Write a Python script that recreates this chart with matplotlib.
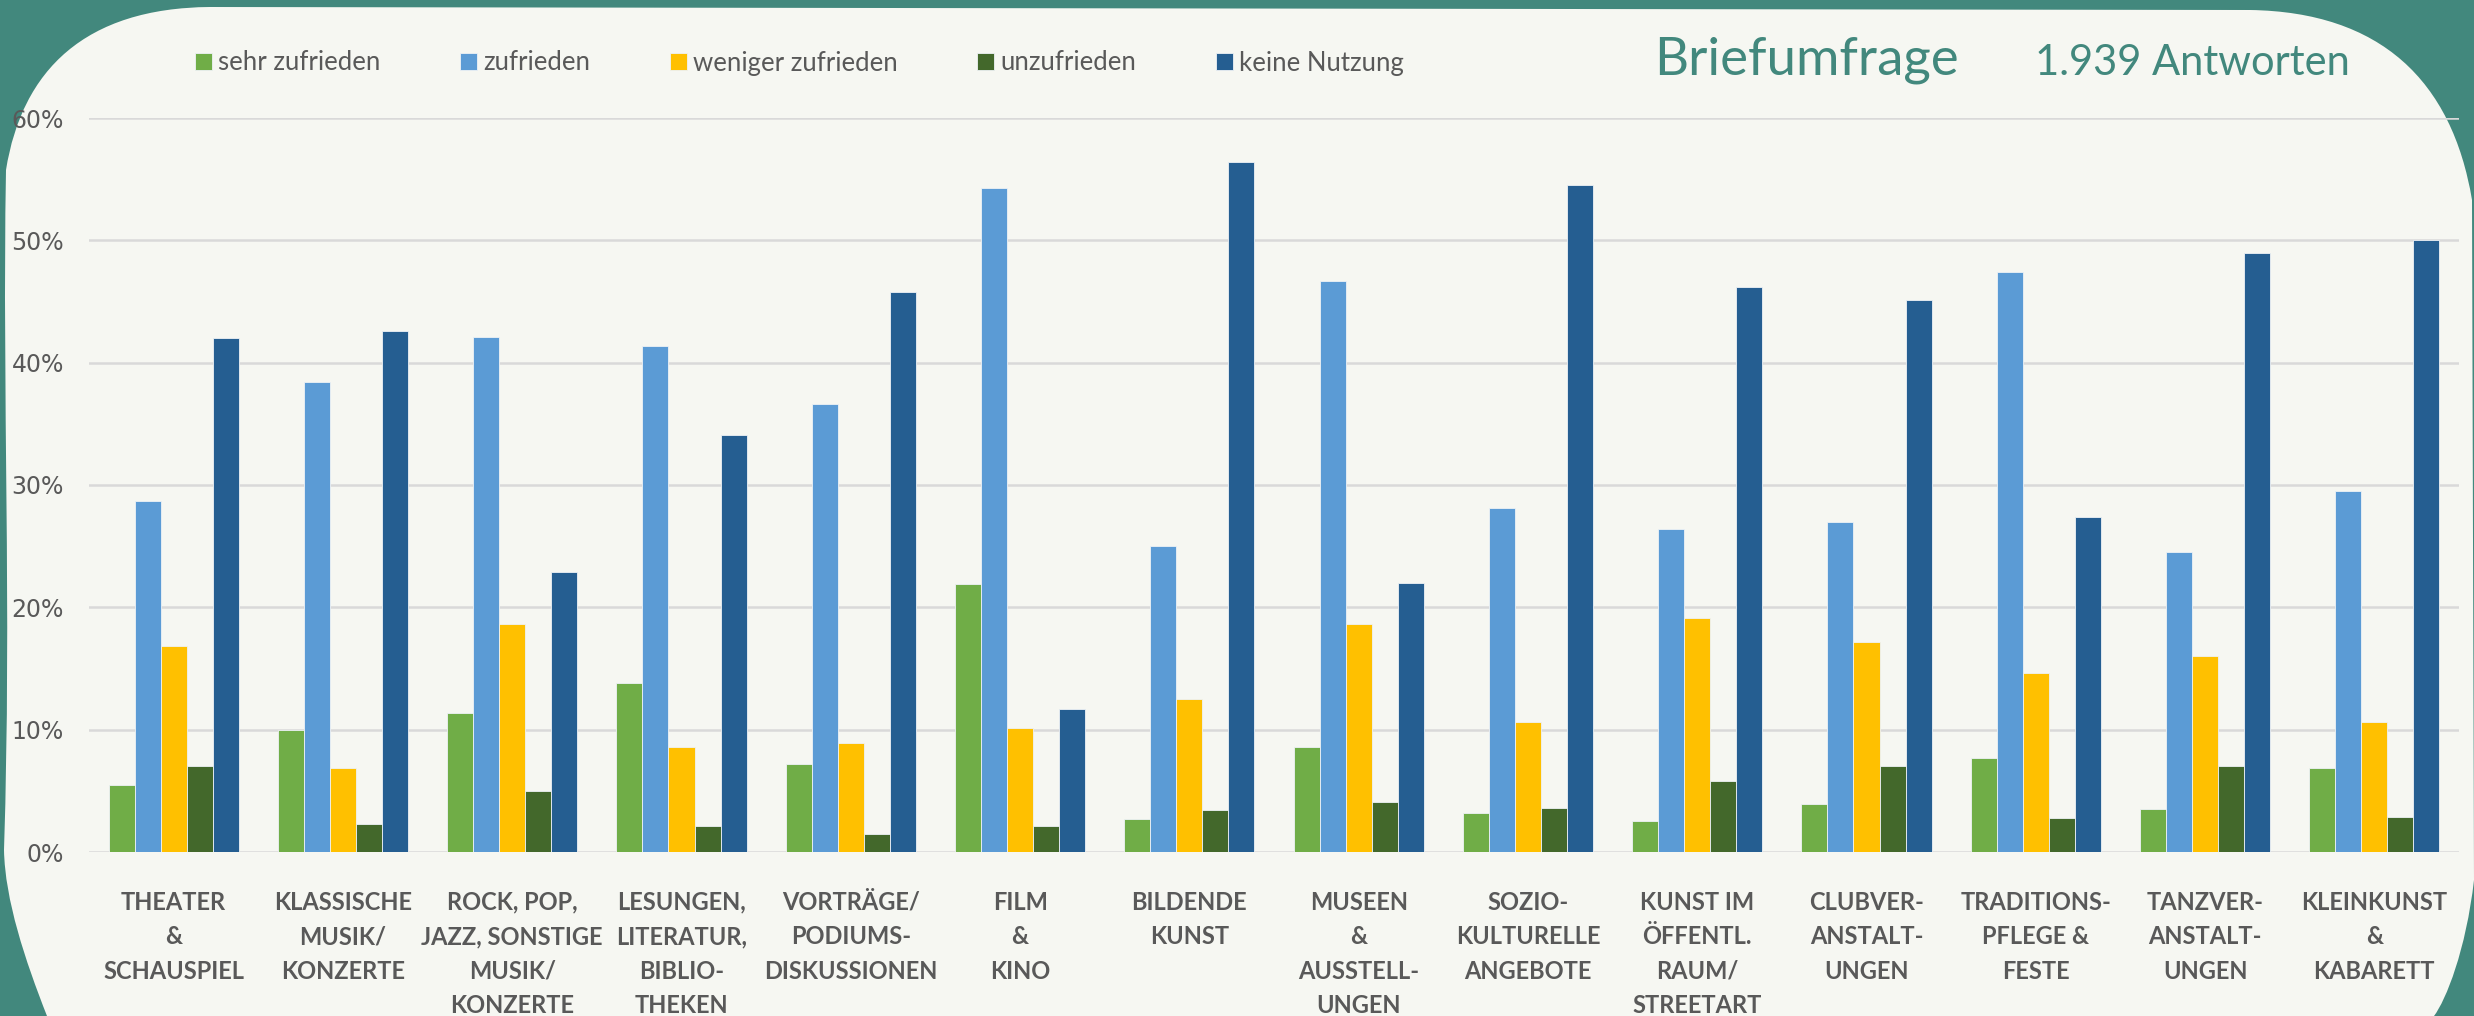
import matplotlib
matplotlib.use("Agg")
import matplotlib.pyplot as plt
import numpy as np
from matplotlib.path import Path
from matplotlib.patches import PathPatch

# ---------------- data ----------------
categories = [
    "THEATER\n&\nSCHAUSPIEL",
    "KLASSISCHE\nMUSIK/\nKONZERTE",
    "ROCK, POP,\nJAZZ, SONSTIGE\nMUSIK/\nKONZERTE",
    "LESUNGEN,\nLITERATUR,\nBIBLIO-\nTHEKEN",
    "VORTRÄGE/\nPODIUMS-\nDISKUSSIONEN",
    "FILM\n&\nKINO",
    "BILDENDE\nKUNST",
    "MUSEEN\n&\nAUSSTELL-\nUNGEN",
    "SOZIO-\nKULTURELLE\nANGEBOTE",
    "KUNST IM\nÖFFENTL.\nRAUM/\nSTREETART",
    "CLUBVER-\nANSTALT-\nUNGEN",
    "TRADITIONS-\nPFLEGE &\nFESTE",
    "TANZVER-\nANSTALT-\nUNGEN",
    "KLEINKUNST\n&\nKABARETT",
]
series_names = ["sehr zufrieden", "zufrieden", "weniger zufrieden", "unzufrieden", "keine Nutzung"]
sehr_zufrieden = [5.5, 10.0, 11.4, 13.8, 7.2, 21.9, 2.7, 8.6, 3.2, 2.5, 3.9, 7.7, 3.5, 6.9]
zufrieden = [28.7, 38.4, 42.1, 41.4, 36.6, 54.3, 25.0, 46.7, 28.1, 26.4, 27.0, 47.4, 24.5, 29.5]
weniger_zufrieden = [16.8, 6.9, 18.6, 8.6, 8.9, 10.1, 12.5, 18.6, 10.6, 19.1, 17.2, 14.6, 16.0, 10.6]
unzufrieden = [7.0, 2.3, 5.0, 2.1, 1.5, 2.1, 3.4, 4.1, 3.6, 5.8, 7.0, 2.8, 7.0, 2.9]
keine_nutzung = [42.0, 42.6, 22.9, 34.1, 45.8, 11.7, 56.4, 22.0, 54.5, 46.2, 45.1, 27.4, 49.0, 50.0]
y_ticks = [0, 10, 20, 30, 40, 50, 60]
y_ticklabels = ["0%", "10%", "20%", "30%", "40%", "50%", "60%"]
title = "Briefumfrage"
subtitle = "1.939 Antworten"

# ---------------- style ----------------
W, H = 2474, 1016
TEAL = "#42887D"
CREAM = "#F6F7F2"
GRAY = "#595959"
colors = ["#70AD47", "#5B9BD5", "#FFC000", "#43682B", "#255E91"]

fig = plt.figure(figsize=(W / 100, H / 100), dpi=100, facecolor=TEAL)

def fp(x, y):
    return (x / W, 1 - y / H)

verts = [
    fp(6, 170),
    fp(22, 70), fp(85, 8), fp(210, 7),
    fp(2250, 10),
    fp(2380, 12), fp(2452, 80), fp(2472, 200),
    fp(2474, 880),
    fp(2466, 950), fp(2446, 1000), fp(2434, 1016),
    fp(47, 1016),
    fp(25, 960), fp(5, 900), fp(4, 850),
    fp(12, 600), fp(2, 400), fp(6, 170),
]
codes = [Path.MOVETO,
         Path.CURVE4, Path.CURVE4, Path.CURVE4,
         Path.LINETO,
         Path.CURVE4, Path.CURVE4, Path.CURVE4,
         Path.LINETO,
         Path.CURVE4, Path.CURVE4, Path.CURVE4,
         Path.LINETO,
         Path.CURVE4, Path.CURVE4, Path.CURVE4,
         Path.CURVE4, Path.CURVE4, Path.CURVE4]
bg = PathPatch(Path(verts, codes), transform=fig.transFigure,
               facecolor=CREAM, edgecolor="none", zorder=-10)
fig.add_artist(bg)

ax_left, ax_right, ax_top, ax_bot = 89, 2459, 118, 852
ax = fig.add_axes([ax_left / W, 1 - ax_bot / H, (ax_right - ax_left) / W, (ax_bot - ax_top) / H])
ax.set_facecolor("none")
ax.set_zorder(1)

data = [sehr_zufrieden, zufrieden, weniger_zufrieden, unzufrieden, keine_nutzung]
n = len(categories)
x = np.arange(n)
bw = 0.1536
for i, (vals, name, c) in enumerate(zip(data, series_names, colors)):
    ax.bar(x + (i - 2) * bw, vals, width=bw, color=c, label=name,
           edgecolor="#EEF2F6", linewidth=0.6, zorder=3)

ax.set_xlim(-0.5, n - 0.5)
ax.set_ylim(0, 60)
ax.set_yticks(y_ticks)
ax.set_yticklabels(y_ticklabels, fontsize=17, color=GRAY, family="DejaVu Sans")
ax.yaxis.grid(True, color="#D9D9D9", linewidth=1.8, zorder=0)
ax.set_axisbelow(True)
ax.tick_params(axis="y", length=0, pad=18)
ax.set_xticks(x)
ax.set_xticklabels(categories, fontsize=17, color=GRAY, fontweight="bold",
                   family="Lato", linespacing=1.6, va="top")
ax.tick_params(axis="x", length=0, pad=28)
for s in ax.spines.values():
    s.set_visible(False)

leg = fig.legend(loc="center left", bbox_to_anchor=(195 / W, 1 - 63 / H), ncol=5,
                 frameon=False, prop={"family": "Lato", "size": 18.5},
                 handlelength=0.65, handleheight=0.65, handletextpad=0.25,
                 columnspacing=3.1, borderpad=0, borderaxespad=0)
for t in leg.get_texts():
    t.set_color(GRAY)

fig.text(1654 / W, 1 - 75 / H, title, fontsize=38, color=TEAL, family="Lato",
         ha="left", va="baseline")
fig.text(2035 / W, 1 - 75 / H, subtitle, fontsize=30, color=TEAL, family="Lato",
         fontweight="normal", ha="left", va="baseline")

fig.savefig("out.png", dpi=100, facecolor=TEAL)
